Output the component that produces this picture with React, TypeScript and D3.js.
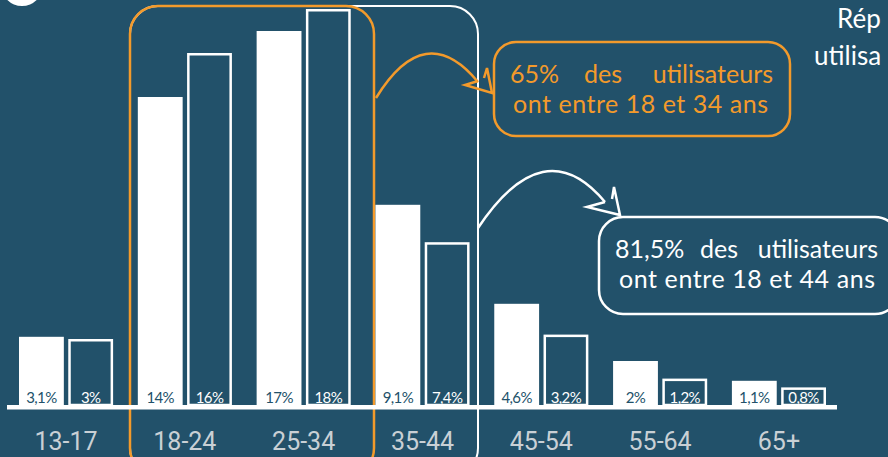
import React from "react";
import * as d3 from "d3";

const categories = ["13-17", "18-24", "25-34", "35-44", "45-54", "55-64", "65+"];
const filledValues = [3.1, 14, 17, 9.1, 4.6, 2, 1.1];
const outlinedValues = [3, 16, 18, 7.4, 3.2, 1.2, 0.8];
const filledLabels = ["3,1%", "14%", "17%", "9,1%", "4,6%", "2%", "1,1%"];
const outlinedLabels = ["3%", "16%", "18%", "7,4%", "3,2%", "1,2%", "0,8%"];
const series = ["filled", "outlined"];

const W = 888;
const H = 457;
const BG = "#22516a";
const ORANGE = "#f39a2b";
const ANN_FONT = "Lato, 'Noto Sans', sans-serif";

export default function App() {
  const x = d3.scaleBand<string>().domain(categories).range([19, 826]).paddingInner(0.208).paddingOuter(0);
  const xi = d3.scaleBand<string>().domain(series).range([0, x.bandwidth()]).paddingInner(0.09);
  const y = d3.scaleLinear().domain([0, 18]).range([405, 9]);
  const sw = 2.5;
  const bw = xi.bandwidth();

  return (
    <svg width={W} height={H} style={{ position: "absolute", left: 0, top: 0, display: "block" }}>
      <rect x={0} y={0} width={W} height={H} fill={BG} />
      {/* top-left clipped circle */}
      <circle cx={22} cy={-15} r={21} fill="#fff" />
      {/* title, clipped at the right in the reference */}
      <text x={837} y={28} fill="#fff" fontFamily={ANN_FONT} fontSize={26}>Rép</text>
      <text x={814} y={65} fill="#fff" fontFamily={ANN_FONT} fontSize={26}>utilisa</text>

      {/* bracket rectangles */}
      <rect x={130} y={6} width={348} height={470} rx={28} fill="none" stroke="#fff" strokeWidth={2} />
      <rect x={130} y={6} width={244} height={470} rx={28} fill="none" stroke={ORANGE} strokeWidth={2.5} />

      {/* bars */}
      {categories.map((c, i) => {
        const gx = x(c)!;
        const fx = gx + xi("filled")!;
        const ox = gx + xi("outlined")!;
        return (
          <g key={c}>
            <rect x={fx} y={y(filledValues[i])} width={bw} height={y(0) - y(filledValues[i])} fill="#fff" />
            <rect
              x={ox + sw / 2}
              y={y(outlinedValues[i]) + sw / 2}
              width={bw - sw}
              height={y(0) - y(outlinedValues[i]) - sw / 2}
              fill="none"
              stroke="#fff"
              strokeWidth={sw}
            />
            <text x={fx + bw / 2} y={403} textAnchor="middle" fill={BG} fontFamily={ANN_FONT} fontSize={15} letterSpacing={-0.6}>
              {filledLabels[i]}
            </text>
            <text x={ox + bw / 2} y={403} textAnchor="middle" fill="#fff" fontFamily={ANN_FONT} fontSize={15} letterSpacing={-0.6}>
              {outlinedLabels[i]}
            </text>
            <text x={gx + x.bandwidth() / 2} y={450} textAnchor="middle" fill="#c9d0d5" fontFamily="'Liberation Sans Narrow', 'Roboto', sans-serif" fontSize={25}>
              {c}
            </text>
          </g>
        );
      })}
      {/* baseline */}
      <rect x={7} y={405} width={830} height={4.5} fill="#fff" />

      {/* orange arrow */}
      <path d="M376 98 Q425 18 478 82" fill="none" stroke={ORANGE} strokeWidth={2.5} />
      <path d="M478 81 L465 85 L492 93 L487 68 L484 78" fill="none" stroke={ORANGE} strokeWidth={2.5} />
      <rect x={494} y={42} width={296} height={94} rx={22} fill="none" stroke={ORANGE} strokeWidth={2.5} />
      <g fill={ORANGE} fontFamily={ANN_FONT} fontSize={25}>
        <text x={510} y={83}>65%</text>
        <text x={603} y={83} textAnchor="middle">des</text>
        <text x={773} y={83} textAnchor="end">utilisateurs</text>
        <text x={513} y={113} textLength={255} lengthAdjust="spacing">ont entre 18 et 34 ans</text>
      </g>

      {/* white arrow */}
      <path d="M478 228 Q544 129 605 202" fill="none" stroke="#fff" strokeWidth={2.5} />
      <path d="M605 202 L587 207 L620 215 L614 187 L612 199" fill="none" stroke="#fff" strokeWidth={2.5} />
      <rect x={599} y={217} width={300} height={97} rx={24} fill="none" stroke="#fff" strokeWidth={2.5} />
      <g fill="#fff" fontFamily={ANN_FONT} fontSize={25}>
        <text x={615} y={258}>81,5%</text>
        <text x={719} y={258} textAnchor="middle">des</text>
        <text x={878} y={258} textAnchor="end">utilisateurs</text>
        <text x={619} y={288} textLength={256} lengthAdjust="spacing">ont entre 18 et 44 ans</text>
      </g>
    </svg>
  );
}
